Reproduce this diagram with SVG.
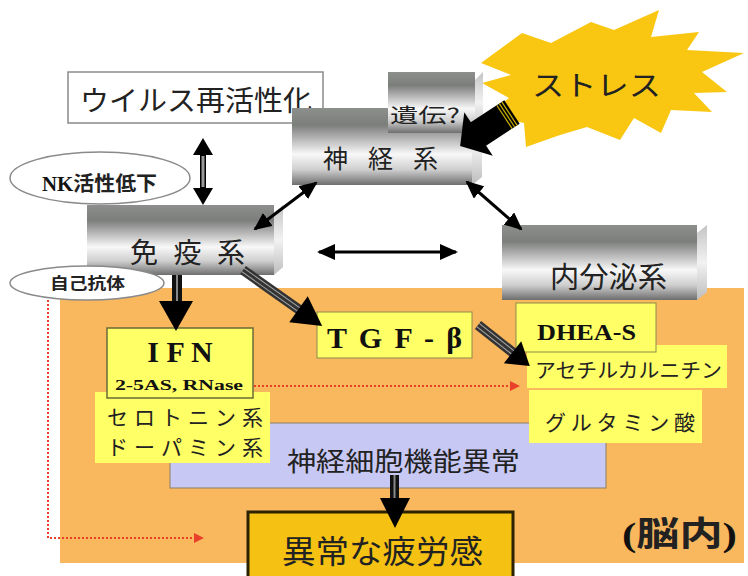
<svg xmlns="http://www.w3.org/2000/svg" width="748" height="576" viewBox="0 0 748 576">
<defs>
<linearGradient id="metal" x1="0" y1="0" x2="0" y2="1">
<stop offset="0" stop-color="#8c8f8c"/>
<stop offset="0.22" stop-color="#7b7e7b"/>
<stop offset="0.38" stop-color="#b0b0b0"/>
<stop offset="0.6" stop-color="#f8f8f8"/>
<stop offset="0.8" stop-color="#cfcfcf"/>
<stop offset="1" stop-color="#6e6e6e"/>
</linearGradient>
<linearGradient id="side" x1="0" y1="0" x2="0" y2="1">
<stop offset="0" stop-color="#c4c4c4"/>
<stop offset="0.5" stop-color="#f2f2f2"/>
<stop offset="1" stop-color="#bdbdbd"/>
</linearGradient>
<marker id="ah" markerUnits="userSpaceOnUse" markerWidth="18" markerHeight="16" refX="16" refY="8" orient="auto-start-reverse">
<path d="M0,0 L18,8 L0,16 z" fill="#000"/>
</marker>
<marker id="rh" markerUnits="userSpaceOnUse" markerWidth="10" markerHeight="10" refX="2" refY="5" orient="auto">
<path d="M0,0 L10,5 L0,10 z" fill="#e8402a"/>
</marker>
<style>
.jp{font-family:"Noto Sans CJK JP","Noto Sans",sans-serif;fill:#222}
.sr{font-family:"Liberation Serif","Times New Roman",serif;font-weight:bold;fill:#111}
.yb{fill:#ffff66}
.thin{stroke:#000;stroke-width:3;fill:none;marker-start:url(#ah);marker-end:url(#ah)}
.red{stroke:#e8402a;stroke-width:2;stroke-dasharray:2 2;fill:none;marker-end:url(#rh)}
.ell{fill:#fff;stroke:#8a8a8a;stroke-width:1.5}
</style>
</defs>

<rect width="748" height="576" fill="#fff"/>

<g id="brain-area">
<rect x="60" y="288" width="684" height="275" fill="#f9b75e"/>
<text x="622" y="546" font-size="34" textLength="115" lengthAdjust="spacingAndGlyphs"><tspan class="sr">(</tspan><tspan class="jp" font-weight="bold">脳内</tspan><tspan class="sr">)</tspan></text>
</g>

<g id="stress">
<polygon fill="#f9c711" points="481,63 522,33 551,43 591,22 614,30 659,10 651,37 699,32 687,50 744,53 702,72 727,92 694,93 712,112 671,110 661,133 634,118 620,140 587,127 560,135 526,147 524,123 487,115 509,98 482,83 511,75"/>
<text class="jp" x="532" y="96" font-size="28" textLength="129" lengthAdjust="spacingAndGlyphs">ストレス</text>
</g>

<g id="virus">
<rect x="68" y="72" width="255" height="51" fill="#fff" stroke="#8a8a8a" stroke-width="1.5"/>
<text class="jp" x="80" y="111" font-size="28" textLength="232" lengthAdjust="spacingAndGlyphs">ウイルス再活性化</text>
</g>

<g id="nervous">
<rect x="292" y="108" width="180" height="77" fill="url(#metal)"/>
<polygon points="472,116 482,108 482,177 472,185" fill="url(#side)"/>
<text class="jp" x="323" y="168" font-size="25" textLength="115" lengthAdjust="spacing">神 経 系</text>
</g>

<g id="heredity">
<rect x="388" y="72" width="87" height="61" fill="url(#metal)"/>
<polygon points="475,80 483,72 483,125 475,133" fill="url(#side)"/>
<text class="jp" x="390" y="123" font-size="20" textLength="70" lengthAdjust="spacingAndGlyphs">遺伝?</text>
</g>

<g id="nk">
<ellipse class="ell" cx="100" cy="178" rx="90" ry="26"/>
<text x="42" y="191" font-size="20" textLength="115" lengthAdjust="spacingAndGlyphs"><tspan class="sr">NK</tspan><tspan class="jp" font-weight="bold">活性低下</tspan></text>
</g>

<g id="immune">
<rect x="87" y="205" width="187" height="70" fill="url(#metal)"/>
<polygon points="274,213 283,205 283,267 274,275" fill="url(#side)"/>
<text class="jp" x="130" y="263" font-size="28" textLength="115" lengthAdjust="spacing">免 疫 系</text>
</g>

<g id="endocrine">
<rect x="502" y="225" width="195" height="75" fill="url(#metal)"/>
<polygon points="697,233 707,225 707,292 697,300" fill="url(#side)"/>
<text class="jp" x="550" y="288" font-size="29" textLength="117" lengthAdjust="spacingAndGlyphs">内分泌系</text>
</g>

<g id="autoantibody">
<ellipse class="ell" cx="87" cy="283" rx="77" ry="17"/>
<text class="jp" x="50" y="289" font-size="16" font-weight="bold" textLength="75" lengthAdjust="spacingAndGlyphs">自己抗体</text>
</g>

<g id="neuron">
<rect x="170" y="423" width="436" height="65" fill="#c8c8f4" stroke="#8d8060" stroke-width="1"/>
<text class="jp" x="287" y="471" font-size="26" textLength="233" lengthAdjust="spacingAndGlyphs">神経細胞機能異常</text>
</g>

<g id="serotonin">
<rect class="yb" x="95" y="392" width="175" height="71"/>
<text class="jp" x="107" y="425" font-size="21" textLength="156" lengthAdjust="spacing">セロトニン系</text>
<text class="jp" x="107" y="455" font-size="21" textLength="156" lengthAdjust="spacing">ドーパミン系</text>
</g>

<g id="ifn">
<rect class="yb" x="107" y="328" width="146" height="70" stroke="#6b6b3a" stroke-width="1.5"/>
<text class="sr" x="180" y="362" font-size="30" text-anchor="middle">I F N</text>
<text class="sr" x="179" y="390" font-size="15" text-anchor="middle" textLength="128" lengthAdjust="spacingAndGlyphs">2-5AS, RNase</text>
</g>

<g id="tgf">
<rect class="yb" x="317" y="312" width="155" height="46" stroke="#8b8b4a" stroke-width="1"/>
<text class="sr" x="327" y="348" font-size="30" textLength="135" lengthAdjust="spacing">T G F - β</text>
</g>

<g id="glutamate">
<rect class="yb" x="529" y="390" width="173" height="53"/>
<text class="jp" x="545" y="430" font-size="21" textLength="150" lengthAdjust="spacing">グルタミン酸</text>
</g>

<g id="acetyl">
<rect class="yb" x="527" y="345" width="200" height="43"/>
<text class="jp" x="535" y="378" font-size="20" textLength="187" lengthAdjust="spacingAndGlyphs">アセチルカルニチン</text>
</g>

<g id="dhea">
<rect class="yb" x="516" y="303" width="140" height="49" stroke="#8b8b4a" stroke-width="1"/>
<text class="sr" x="537" y="340" font-size="24" textLength="99" lengthAdjust="spacingAndGlyphs">DHEA-S</text>
</g>

<g id="fatigue">
<rect x="248" y="512" width="265" height="66" fill="#f5c214" stroke="#2a2200" stroke-width="3"/>
<text class="jp" x="282" y="563" font-size="32" textLength="201" lengthAdjust="spacingAndGlyphs">異常な疲労感</text>
</g>

<g id="connectors">
<line class="thin" x1="255" y1="229" x2="316" y2="183"/>
<line class="thin" x1="467" y1="182" x2="521" y2="229"/>
<line class="thin" x1="319" y1="252" x2="456" y2="252"/>
<polygon points="203,138 213,155 206,155 206,188 213,188 203,205 193,188 200,188 200,155 193,155" fill="#000"/>
<rect x="201.5" y="156" width="3" height="31" fill="#999"/>
<rect x="172" y="275" width="10" height="27" fill="#111"/>
<rect x="176" y="275" width="2" height="27" fill="#888"/>
<polygon points="159,301 193,301 176,331" fill="#000"/>
<g transform="translate(243,270) rotate(35.3)">
<rect x="0" y="-5" width="70" height="10" fill="#333"/>
<line x1="0" y1="-2" x2="70" y2="-2" stroke="#aaa" stroke-width="1"/>
<line x1="0" y1="2" x2="70" y2="2" stroke="#aaa" stroke-width="1"/>
<polygon points="68,-16 97,0 68,16" fill="#000"/>
</g>
<g transform="translate(478,325) rotate(38.3)">
<rect x="0" y="-5" width="46" height="10" fill="#333"/>
<line x1="0" y1="-2" x2="46" y2="-2" stroke="#aaa" stroke-width="1"/>
<line x1="0" y1="2" x2="46" y2="2" stroke="#aaa" stroke-width="1"/>
<polygon points="44,-14 66,0 44,14" fill="#000"/>
</g>
<g transform="translate(512,112) rotate(146.8)">
<rect x="0" y="-14" width="42" height="28" fill="#000"/>
<line x1="3" y1="-14" x2="3" y2="14" stroke="#c9b000" stroke-width="1.2"/>
<line x1="6" y1="-14" x2="6" y2="14" stroke="#c9b000" stroke-width="1.2"/>
<line x1="9" y1="-14" x2="9" y2="14" stroke="#c9b000" stroke-width="1.2"/>
<polygon points="40,-26 62,0 40,26" fill="#000"/>
</g>
<rect x="390" y="475" width="9" height="25" fill="#111"/>
<rect x="393.5" y="475" width="2" height="25" fill="#888"/>
<polygon points="380,498 410,498 395,528" fill="#000"/>
<polyline class="red" points="48,300 48,538 196,538"/>
<line class="red" x1="254" y1="386" x2="512" y2="386"/>
</g>
</svg>
